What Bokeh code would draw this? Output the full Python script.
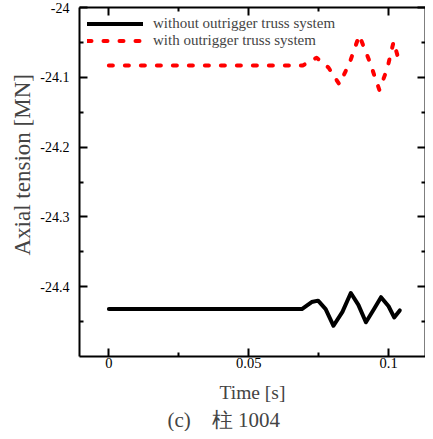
from bokeh.plotting import figure
from bokeh.models import (Range1d, LinearAxis, FixedTicker, CustomJSTickFormatter,
                          Legend, LegendItem, Title)
from bokeh.embed import file_html
from bokeh.resources import INLINE

# ---- data ----
t_without = [0.0, 0.0690, 0.0725, 0.0748, 0.0775, 0.0803, 0.0835, 0.0865, 0.0892, 0.0919, 0.0948, 0.0973, 0.1000, 0.1020, 0.1040]
v_without = [-24.432, -24.432, -24.422, -24.420, -24.432, -24.456, -24.436, -24.409, -24.426, -24.451, -24.432, -24.415, -24.428, -24.444, -24.434]

t_with = [0.0, 0.0693, 0.0743, 0.0785, 0.0824, 0.0860, 0.0895, 0.0930, 0.0967, 0.0995, 0.1018, 0.1032]
v_with = [-24.083, -24.083, -24.072, -24.086, -24.110, -24.080, -24.040, -24.075, -24.118, -24.088, -24.049, -24.069]

series_labels = ["without outrigger truss system", "with outrigger truss system"]

x_major = [0.0, 0.05, 0.1]
x_minor = [0.025, 0.075]
y_major = [-24.4, -24.3, -24.2, -24.1, -24.0]
y_minor = [-24.45, -24.35, -24.25, -24.15, -24.05]

x_title = "Time [s]"
y_title = "Axial tension [MN]"
caption = "(c)\u3000柱 1004"

SERIF = "Liberation Serif"

p = figure(width=425, height=431, output_backend="svg", toolbar_location=None,
           x_range=Range1d(-0.0105, 0.1132), y_range=Range1d(-24.5, -24.0),
           x_axis_location=None, y_axis_location=None,
           min_border_left=0, min_border_right=0, min_border_top=0, min_border_bottom=0,
           background_fill_color="white", border_fill_color="white")
p.outline_line_color = None
p.xgrid.visible = False
p.ygrid.visible = False

xt = FixedTicker(ticks=x_major, minor_ticks=x_minor)
yt = FixedTicker(ticks=y_major, minor_ticks=y_minor)
xfmt = CustomJSTickFormatter(code="return String(Number(tick.toFixed(3)));")
yfmt = CustomJSTickFormatter(code="return tick.toFixed(1).replace(/\\.0$/, '');")
nofmt = CustomJSTickFormatter(code="return '';")


def style_axis(ax):
    ax.axis_line_width = 2
    ax.axis_line_color = "black"
    ax.major_tick_line_width = 2
    ax.minor_tick_line_width = 2
    ax.major_tick_in = 8
    ax.major_tick_out = 0
    ax.minor_tick_in = 4
    ax.minor_tick_out = 0
    ax.major_label_text_font = SERIF
    ax.major_label_text_color = "black"


def spacer_axis(size, tick):
    # an invisible axis used only to reserve a border of `size` pixels
    ax = LinearAxis(ticker=FixedTicker(ticks=[tick], minor_ticks=[]), formatter=nofmt)
    ax.axis_line_color = None
    ax.major_tick_line_color = None
    ax.minor_tick_line_color = None
    ax.major_tick_in = 0
    ax.major_tick_out = size
    ax.minor_tick_in = 0
    ax.minor_tick_out = 0
    ax.major_label_standoff = 0
    return ax


bottom = LinearAxis(ticker=xt, formatter=xfmt)
style_axis(bottom)
bottom.major_label_text_font_size = "14.5px"
bottom.major_label_standoff = 1
bottom.axis_label = x_title
bottom.axis_label_text_font = SERIF
bottom.axis_label_text_font_size = "19.5px"
bottom.axis_label_text_font_style = "normal"
bottom.axis_label_standoff = 11
p.add_layout(bottom, "below")

top = LinearAxis(ticker=xt, formatter=nofmt)
style_axis(top)
top.major_label_standoff = 0
p.add_layout(top, "above")
p.add_layout(spacer_axis(7, 0.05), "above")

left = LinearAxis(ticker=yt, formatter=yfmt)
style_axis(left)
left.major_label_text_font_size = "14px"
left.major_label_standoff = 10
p.add_layout(left, "left")

right = LinearAxis(ticker=yt, formatter=nofmt)
style_axis(right)
right.major_label_standoff = 0
p.add_layout(right, "right")

r1 = p.line(t_without, v_without, line_color="black", line_width=4,
            line_join="round", line_cap="round")
r2 = p.line(t_with, v_with, line_color="red", line_width=4, line_dash="4 12",
            line_join="round", line_cap="round")

legend = Legend(items=[LegendItem(label=series_labels[0], renderers=[r1]),
                       LegendItem(label=series_labels[1], renderers=[r2])],
                location="top_left", border_line_color=None, background_fill_alpha=0,
                label_text_font=SERIF, label_text_font_size="15px",
                glyph_width=56, glyph_height=17, label_height=17, spacing=0,
                padding=0, margin=8, label_standoff=10)
p.add_layout(legend)

ytitle = Title(text=y_title, align="left", offset=101, text_font=SERIF,
               text_font_size="23px", text_font_style="normal", standoff=6)
p.add_layout(ytitle, "left")
p.add_layout(spacer_axis(4, -24.25), "left")

cap = Title(text=caption, align="left", offset=88, text_font=SERIF,
            text_font_size="21px", text_font_style="normal", standoff=0)
p.add_layout(cap, "below")

open("out.html", "w").write(file_html(p, INLINE))
